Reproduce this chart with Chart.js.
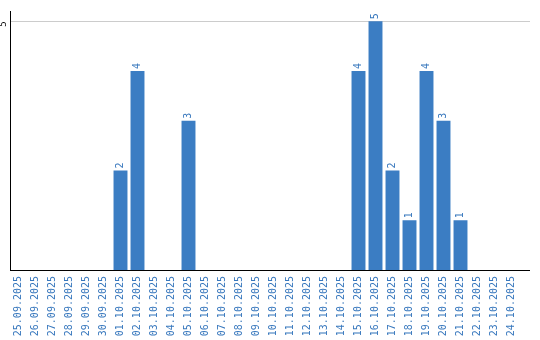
<!DOCTYPE html>
<html>
<head>
<meta charset="utf-8">
<script src="https://cdn.jsdelivr.net/npm/chart.js@4"></script>
<style>
html,body{margin:0;padding:0;background:#fff;}
canvas{display:block;}
</style>
</head>
<body>
<canvas id="c" width="540" height="340"></canvas>
<script>
const categories = ["25.09.2025","26.09.2025","27.09.2025","28.09.2025","29.09.2025","30.09.2025","01.10.2025","02.10.2025","03.10.2025","04.10.2025","05.10.2025","06.10.2025","07.10.2025","08.10.2025","09.10.2025","10.10.2025","11.10.2025","12.10.2025","13.10.2025","14.10.2025","15.10.2025","16.10.2025","17.10.2025","18.10.2025","19.10.2025","20.10.2025","21.10.2025","22.10.2025","23.10.2025","24.10.2025"];
const counts = [0,0,0,0,0,0,2,4,0,0,3,0,0,0,0,0,0,0,0,0,4,5,2,1,4,3,1,0,0,0];
const yTicks = [5];
const yMax = 5.2;

const BAR = '#3b7dc3';
const TXT = '#3777bd';
const FONT = {family: 'DejaVu Sans Mono', size: 10};

const valueLabels = {
  id: 'valueLabels',
  afterDatasetsDraw(chart) {
    const ctx = chart.ctx;
    const meta = chart.getDatasetMeta(0);
    ctx.save();
    ctx.fillStyle = TXT;
    ctx.font = FONT.size + 'px "' + FONT.family + '"';
    ctx.textAlign = 'left';
    ctx.textBaseline = 'middle';
    meta.data.forEach((bar, i) => {
      const v = counts[i];
      if (!v) return;
      ctx.save();
      ctx.translate(bar.x, bar.y - 2);
      ctx.rotate(-Math.PI / 2);
      ctx.fillText(String(v), 0, 0);
      ctx.restore();
    });
    ctx.restore();
  }
};

const extendLines = {
  id: 'extendLines',
  afterDraw(chart) {
    const ctx = chart.ctx;
    const a = chart.chartArea;
    const y = chart.scales.y;
    ctx.save();
    ctx.lineWidth = 1;
    ctx.strokeStyle = '#cccccc';
    yTicks.forEach(t => {
      const py = Math.round(y.getPixelForValue(t)) + 0.5;
      ctx.beginPath(); ctx.moveTo(a.right, py); ctx.lineTo(a.right + 10, py); ctx.stroke();
    });
    ctx.strokeStyle = '#000000';
    const p0 = Math.round(y.getPixelForValue(0)) + 0.5;
    ctx.beginPath(); ctx.moveTo(a.right - 1, p0); ctx.lineTo(a.right + 10, p0); ctx.stroke();
    ctx.restore();
  }
};

new Chart(document.getElementById('c'), {
  type: 'bar',
  data: {
    labels: categories,
    datasets: [{
      data: counts,
      backgroundColor: BAR,
      borderWidth: 0,
      barPercentage: 0.82,
      categoryPercentage: 1.0
    }]
  },
  options: {
    responsive: false,
    animation: false,
    devicePixelRatio: 1,
    layout: {padding: {top: 10, right: 20, left: 0, bottom: 0}},
    plugins: {legend: {display: false}, tooltip: {enabled: false}, title: {display: false}},
    scales: {
      x: {
        grid: {display: false, drawTicks: false},
        border: {display: true, color: '#000', width: 1},
        ticks: {
          color: TXT, font: FONT, minRotation: 90, maxRotation: 90,
          autoSkip: false, padding: 6
        },
        afterFit(s) { s.height = 70; }
      },
      y: {
        min: 0, max: yMax,
        grid: {color: '#cccccc', drawTicks: false, lineWidth: ctx => (ctx.tick && ctx.tick.value === 0 ? 0 : 1)},
        border: {display: true, color: '#000', width: 1},
        afterBuildTicks(s) { s.ticks = yTicks.map(v => ({value: v})); },
        ticks: {color: '#000', font: {family: 'DejaVu Sans Mono', size: 9}, minRotation: 90, maxRotation: 90, padding: 6},
        afterFit(s) { s.width = 10; }
      }
    }
  },
  plugins: [valueLabels, extendLines]
});
</script>
</body>
</html>
